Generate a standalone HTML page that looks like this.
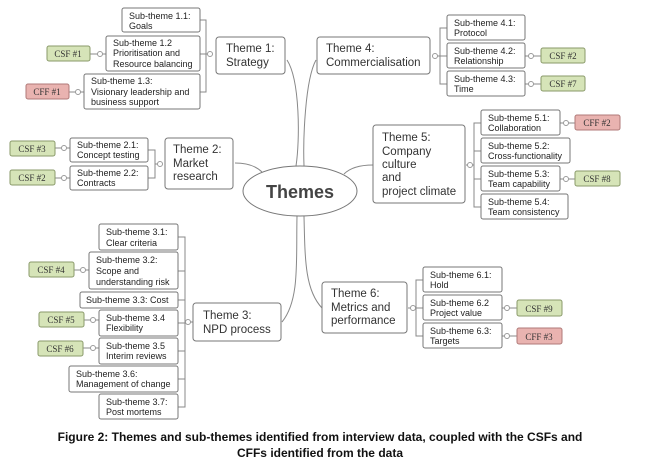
<!DOCTYPE html>
<html><head><meta charset="utf-8"><style>
body{margin:0;background:#fff;}
svg{display:block;font-family:"Liberation Sans",sans-serif;}
.b{fill:#fff;stroke:#777;stroke-width:1;}
.s{font-size:9px;fill:#222;}
.t{font-size:11.5px;fill:#333;}
.l{fill:none;stroke:#888;stroke-width:1;}
.g{fill:#d6e4b8;stroke:#8a9a6a;}
.r{fill:#e9b3b0;stroke:#b07a78;}
.c{fill:#fff;stroke:#999;}
</style></head><body>
<svg width="647" height="462" viewBox="0 0 647 462">
<!-- main curves -->
<g class="l">
<path d="M287 60 C300 80 300 140 296 166"/>
<path d="M316 60 C305 80 303 140 304 166"/>
<path d="M235 163 C250 163 258 168 262 172"/>
<path d="M373 165 C360 165 350 168 344 174"/>
<path d="M297 216 C296 260 300 300 282 322"/>
<path d="M304 216 C305 260 305 290 322 308"/>
</g>
<!-- brackets -->
<g class="l">
<path d="M200 20 H206 V92 H200 M200 54 H212"/>
<path d="M148 150 H155 V178 H148 M155 164 H160"/>
<path d="M178 237 H185 V407 H178 M178 271 H185 M178 300 H185 M178 323 H185 M178 351 H185 M178 379 H185 M185 322 H193"/>
<path d="M447 28 H440 V84 H447 M447 56 H434"/>
<path d="M481 123 H474 V207 H481 M481 151 H474 M481 179 H474 M474 165 H466"/>
<path d="M423 280 H416 V336 H423 M423 308 H408"/>
<path d="M90 54 H106 M69 92 H84 M55 148 H70 M55 178 H70 M74 270 H89 M84 320 H99 M83 348 H99 M525 56 H541 M525 84 H541 M560 123 H575 M560 179 H575 M502 308 H517 M502 336 H517"/>
</g>
<g class="c">
<circle cx="210" cy="54" r="2.5"/><circle cx="100" cy="54" r="2.5"/><circle cx="78" cy="92" r="2.5"/>
<circle cx="160" cy="164" r="2.5"/><circle cx="64" cy="148" r="2.5"/><circle cx="64" cy="178" r="2.5"/>
<circle cx="188" cy="322" r="2.5"/><circle cx="83" cy="270" r="2.5"/><circle cx="93" cy="320" r="2.5"/><circle cx="93" cy="348" r="2.5"/>
<circle cx="435" cy="56" r="2.5"/><circle cx="531" cy="56" r="2.5"/><circle cx="531" cy="84" r="2.5"/>
<circle cx="470" cy="165" r="2.5"/><circle cx="566" cy="123" r="2.5"/><circle cx="566" cy="179" r="2.5"/>
<circle cx="413" cy="308" r="2.5"/><circle cx="507" cy="308" r="2.5"/><circle cx="507" cy="336" r="2.5"/>
</g>
<!-- ellipse -->
<ellipse cx="300" cy="191" rx="57" ry="25" class="b"/>
<text x="300" y="198" text-anchor="middle" font-size="18" font-weight="bold" fill="#444">Themes</text>
<!-- themes -->
<rect x="216" y="37" width="69" height="37" rx="3" class="b"/>
<text class="t" x="226" y="52">Theme 1:</text><text class="t" x="226" y="66">Strategy</text>
<rect x="165" y="138" width="68" height="51" rx="3" class="b"/>
<text class="t" x="173" y="153">Theme 2:</text><text class="t" x="173" y="167">Market</text><text class="t" x="173" y="180">research</text>
<rect x="193" y="303" width="88" height="38" rx="3" class="b"/>
<text class="t" x="203" y="319">Theme 3:</text><text class="t" x="203" y="333">NPD process</text>
<rect x="317" y="37" width="113" height="37" rx="3" class="b"/>
<text class="t" x="326" y="52">Theme 4:</text><text class="t" x="326" y="66">Commercialisation</text>
<rect x="373" y="125" width="92" height="78" rx="3" class="b"/>
<text class="t" x="382" y="141">Theme 5:</text><text class="t" x="382" y="155">Company</text><text class="t" x="382" y="168">culture</text><text class="t" x="382" y="181">and</text><text class="t" x="382" y="195">project climate</text>
<rect x="322" y="282" width="85" height="51" rx="3" class="b"/>
<text class="t" x="331" y="297">Theme 6:</text><text class="t" x="331" y="311">Metrics and</text><text class="t" x="331" y="324">performance</text>
<!-- subthemes -->
<g class="b">
<rect x="122" y="8" width="78" height="24" rx="2"/><rect x="106" y="36" width="94" height="35" rx="2"/><rect x="84" y="74" width="116" height="35" rx="2"/>
<rect x="70" y="138" width="78" height="24" rx="2"/><rect x="70" y="166" width="78" height="24" rx="2"/>
<rect x="99" y="224" width="79" height="26" rx="2"/><rect x="89" y="252" width="89" height="37" rx="2"/><rect x="80" y="292" width="98" height="16" rx="2"/>
<rect x="99" y="310" width="79" height="26" rx="2"/><rect x="99" y="338" width="79" height="26" rx="2"/><rect x="69" y="366" width="109" height="26" rx="2"/><rect x="99" y="394" width="79" height="25" rx="2"/>
<rect x="447" y="15" width="78" height="25" rx="2"/><rect x="447" y="43" width="78" height="25" rx="2"/><rect x="447" y="71" width="78" height="25" rx="2"/>
<rect x="481" y="110" width="79" height="25" rx="2"/><rect x="481" y="138" width="89" height="25" rx="2"/><rect x="481" y="166" width="79" height="25" rx="2"/><rect x="481" y="194" width="87" height="25" rx="2"/>
<rect x="423" y="267" width="79" height="25" rx="2"/><rect x="423" y="295" width="79" height="25" rx="2"/><rect x="423" y="323" width="79" height="25" rx="2"/>
</g>
<g class="s">
<text x="129" y="19">Sub-theme 1.1:</text><text x="129" y="29">Goals</text>
<text x="113" y="46">Sub-theme 1.2</text><text x="113" y="56">Prioritisation and</text><text x="113" y="67">Resource balancing</text>
<text x="91" y="84">Sub-theme 1.3:</text><text x="91" y="95">Visionary leadership and</text><text x="91" y="105">business support</text>
<text x="77" y="148">Sub-theme 2.1:</text><text x="77" y="158">Concept testing</text>
<text x="77" y="176">Sub-theme 2.2:</text><text x="77" y="186">Contracts</text>
<text x="106" y="235">Sub-theme 3.1:</text><text x="106" y="246">Clear criteria</text>
<text x="96" y="263">Sub-theme 3.2:</text><text x="96" y="274">Scope and</text><text x="96" y="285">understanding risk</text>
<text x="86" y="303">Sub-theme 3.3: Cost</text>
<text x="106" y="321">Sub-theme 3.4</text><text x="106" y="331">Flexibility</text>
<text x="106" y="349">Sub-theme 3.5</text><text x="106" y="359">Interim reviews</text>
<text x="76" y="377">Sub-theme 3.6:</text><text x="76" y="387">Management of change</text>
<text x="106" y="405">Sub-theme 3.7:</text><text x="106" y="415">Post mortems</text>
<text x="454" y="26">Sub-theme 4.1:</text><text x="454" y="36">Protocol</text>
<text x="454" y="54">Sub-theme 4.2:</text><text x="454" y="64">Relationship</text>
<text x="454" y="82">Sub-theme 4.3:</text><text x="454" y="92">Time</text>
<text x="488" y="121">Sub-theme 5.1:</text><text x="488" y="131">Collaboration</text>
<text x="488" y="149">Sub-theme 5.2:</text><text x="488" y="159">Cross-functionality</text>
<text x="488" y="177">Sub-theme 5.3:</text><text x="488" y="187">Team capability</text>
<text x="488" y="205">Sub-theme 5.4:</text><text x="488" y="215">Team consistency</text>
<text x="430" y="278">Sub-theme 6.1:</text><text x="430" y="288">Hold</text>
<text x="430" y="306">Sub-theme 6.2</text><text x="430" y="316">Project value</text>
<text x="430" y="334">Sub-theme 6.3:</text><text x="430" y="344">Targets</text>
</g>
<!-- CSF/CFF -->
<g>
<rect x="47" y="46" width="43" height="15" rx="2" class="g"/><rect x="26" y="84" width="43" height="15" rx="2" class="r"/>
<rect x="10" y="141" width="45" height="15" rx="2" class="g"/><rect x="10" y="170" width="45" height="15" rx="2" class="g"/>
<rect x="29" y="262" width="45" height="15" rx="2" class="g"/><rect x="39" y="312" width="45" height="15" rx="2" class="g"/><rect x="38" y="341" width="45" height="15" rx="2" class="g"/>
<rect x="541" y="48" width="44" height="15" rx="2" class="g"/><rect x="541" y="76" width="44" height="15" rx="2" class="g"/>
<rect x="575" y="115" width="45" height="15" rx="2" class="r"/><rect x="575" y="171" width="45" height="15" rx="2" class="g"/>
<rect x="517" y="300" width="45" height="16" rx="2" class="g"/><rect x="517" y="328" width="45" height="16" rx="2" class="r"/>
</g>
<g font-size="9" fill="#333" text-anchor="middle" font-family="Liberation Serif,serif">
<text x="68" y="57">CSF #1</text><text x="47" y="95">CFF #1</text>
<text x="32" y="152">CSF #3</text><text x="32" y="181">CSF #2</text>
<text x="51" y="273">CSF #4</text><text x="61" y="323">CSF #5</text><text x="60" y="352">CSF #6</text>
<text x="563" y="59">CSF #2</text><text x="563" y="87">CSF #7</text>
<text x="597" y="126">CFF #2</text><text x="597" y="182">CSF #8</text>
<text x="539" y="312">CSF #9</text><text x="539" y="340">CFF #3</text>
</g>
<g font-size="12" font-weight="bold" fill="#111" text-anchor="middle">
<text x="320" y="441">Figure 2: Themes and sub-themes identified from interview data, coupled with the CSFs and</text>
<text x="320" y="457">CFFs identified from the data</text>
</g>
</svg>
</body></html>
